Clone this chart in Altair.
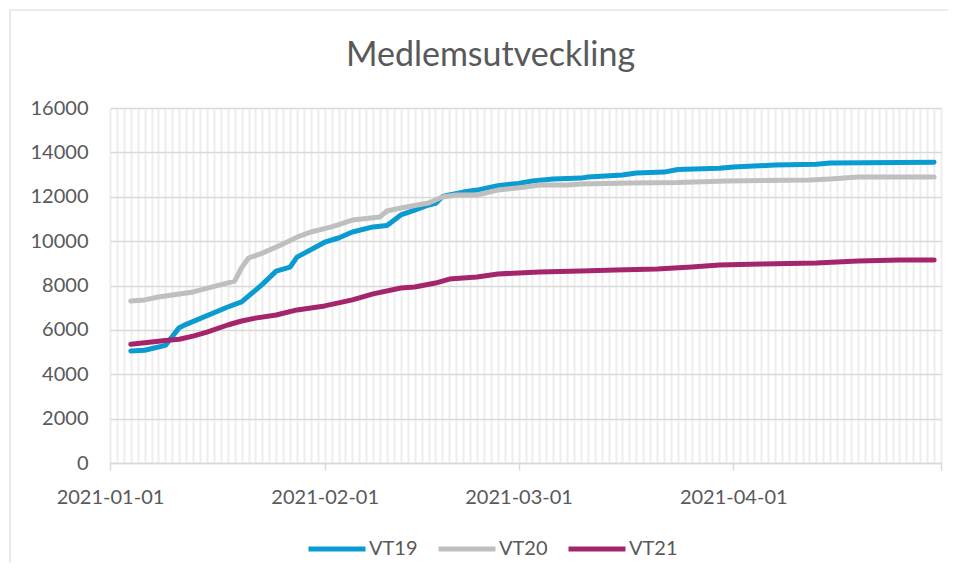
import altair as alt
import pandas as pd

# ---- data ----
series_names = ["VT19", "VT20", "VT21"]
series_colors = ["#0A9BD0", "#BFBFBF", "#A5256D"]

vt19_dates = ["2021-01-04", "2021-01-06", "2021-01-09", "2021-01-11", "2021-01-12", "2021-01-18",
              "2021-01-20", "2021-01-23", "2021-01-25", "2021-01-27", "2021-01-28", "2021-02-01",
              "2021-02-02", "2021-02-03", "2021-02-05", "2021-02-08", "2021-02-10", "2021-02-12",
              "2021-02-14", "2021-02-16", "2021-02-17", "2021-02-18", "2021-02-19", "2021-02-21",
              "2021-02-23", "2021-02-26", "2021-03-01", "2021-03-03", "2021-03-06", "2021-03-10",
              "2021-03-11", "2021-03-16", "2021-03-18", "2021-03-22", "2021-03-24", "2021-03-30",
              "2021-04-01", "2021-04-07", "2021-04-13", "2021-04-15", "2021-04-30"]
vt19_values = [5050, 5080, 5300, 6100, 6250, 7030,
               7260, 8050, 8650, 8830, 9280, 9950,
               10050, 10140, 10410, 10640, 10700, 11180,
               11400, 11630, 11700, 12000, 12080, 12210,
               12300, 12500, 12600, 12710, 12800, 12840,
               12890, 12980, 13070, 13110, 13230, 13280,
               13340, 13430, 13470, 13520, 13560]

vt20_dates = ["2021-01-04", "2021-01-06", "2021-01-08", "2021-01-13", "2021-01-19", "2021-01-20",
              "2021-01-21", "2021-01-23", "2021-01-26", "2021-01-28", "2021-01-30", "2021-02-02",
              "2021-02-05", "2021-02-09", "2021-02-10", "2021-02-12", "2021-02-16", "2021-02-18",
              "2021-02-20", "2021-02-23", "2021-02-26", "2021-03-02", "2021-03-04", "2021-03-08",
              "2021-03-10", "2021-03-17", "2021-03-24", "2021-03-31", "2021-04-12", "2021-04-15",
              "2021-04-19", "2021-04-30"]
vt20_values = [7300, 7350, 7480, 7710, 8200, 8800,
               9240, 9460, 9870, 10180, 10410, 10640,
               10950, 11090, 11360, 11490, 11720, 11990,
               12080, 12080, 12300, 12440, 12530, 12530,
               12570, 12620, 12640, 12710, 12750, 12800,
               12890, 12890]

vt21_dates = ["2021-01-04", "2021-01-06", "2021-01-09", "2021-01-11", "2021-01-13", "2021-01-15",
              "2021-01-18", "2021-01-20", "2021-01-22", "2021-01-25", "2021-01-28", "2021-02-01",
              "2021-02-05", "2021-02-08", "2021-02-12", "2021-02-14", "2021-02-17", "2021-02-19",
              "2021-02-23", "2021-02-26", "2021-03-04", "2021-03-10", "2021-03-15", "2021-03-21",
              "2021-03-26", "2021-03-30", "2021-04-05", "2021-04-13", "2021-04-19", "2021-04-25",
              "2021-04-30"]
vt21_values = [5350, 5420, 5520, 5580, 5720, 5900,
               6220, 6400, 6530, 6670, 6900, 7080,
               7350, 7620, 7890, 7930, 8110, 8290,
               8380, 8520, 8610, 8650, 8700, 8740,
               8830, 8920, 8970, 9010, 9100, 9150,
               9150]

y_ticks = [0, 2000, 4000, 6000, 8000, 10000, 12000, 14000, 16000]

rows = []
for name, ds, vs in [("VT19", vt19_dates, vt19_values),
                     ("VT20", vt20_dates, vt20_values),
                     ("VT21", vt21_dates, vt21_values)]:
    for d, v in zip(ds, vs):
        rows.append({"Serie": name, "Datum": d, "Medlemmar": v})
df = pd.DataFrame(rows)

FONT = "Lato"
TXT = "#595959"

x_axis = alt.Axis(
    title=None,
    tickCount={"interval": "day", "step": 1},
    grid=True, gridColor="#eeeeee", gridWidth=2,
    labelExpr="(utcdate(datum.value) == 1 && utcmonth(datum.value) < 4) ? utcFormat(datum.value, '%Y-%m-%d') : ''",
    labelOverlap=False, labelFlush=False,
    labelFont=FONT, labelFontSize=20, labelColor=TXT,
    labelBaseline="alphabetic", labelPadding=33,
    ticks=True, tickSize=7, tickColor="#d9d9d9", tickWidth=1.5,
    tickOpacity={"condition": {"test": "utcdate(datum.value) == 1", "value": 1}, "value": 0},
    domainColor="#d9d9d9", domainWidth=1.5,
)

y_axis = alt.Axis(
    title=None, values=y_ticks, format="d", grid=True, gridColor="#d9d9d9", gridWidth=1.5,
    domain=False, ticks=False, labelPadding=22,
    labelFont=FONT, labelFontSize=20, labelColor=TXT,
)

lines = alt.Chart(df).mark_line(strokeWidth=5, strokeCap="round", strokeJoin="round").encode(
    x=alt.X("Datum:T", axis=x_axis,
            scale=alt.Scale(type="utc",
                            domain=[alt.DateTime(year=2021, month=1, date=1, utc=True),
                                    alt.DateTime(year=2021, month=5, date=1, utc=True)])),
    y=alt.Y("Medlemmar:Q", axis=y_axis, scale=alt.Scale(domain=[0, 16000], nice=False)),
    color=alt.Color("Serie:N",
                    scale=alt.Scale(domain=series_names, range=series_colors),
                    legend=alt.Legend(title=None, orient="none", legendX=196, legendY=410,
                                      direction="horizontal", symbolType="stroke",
                                      symbolSize=3249, symbolStrokeWidth=5,
                                      labelFont=FONT, labelFontSize=20, labelColor=TXT,
                                      labelOffset=1, columnPadding=10, padding=0)),
)

border = alt.Chart(pd.DataFrame({"a": [0]})).mark_rect(
    fill="transparent", stroke="#d9d9d9", strokeWidth=1.2
).encode(x=alt.value(-100), x2=alt.value(880), y=alt.value(-98), y2=alt.value(480))

chart = alt.layer(border, lines).properties(
    width=831, height=355,
    autosize=alt.AutoSizeParams(type="none"),
    padding={"left": 102, "top": 100, "right": 7, "bottom": 100},
    title=alt.Title("Medlemsutveckling", font=FONT, fontSize=34, color=TXT,
                    fontWeight="normal", anchor="middle", frame="group",
                    dx=-35, offset=-91, baseline="alphabetic"),
).configure_view(stroke=None).configure(background="white")

chart.save("out.html", embed_options={"renderer": "svg", "actions": False})
